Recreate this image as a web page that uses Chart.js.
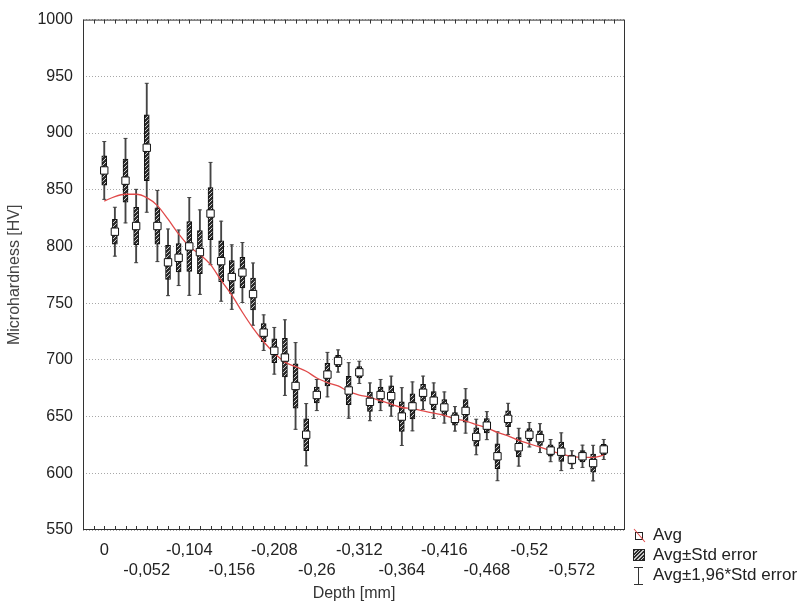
<!DOCTYPE html>
<html>
<head>
<meta charset="utf-8">
<script src="https://cdn.jsdelivr.net/npm/chart.js@4.4.1/dist/chart.umd.min.js"></script>
<style>
  body { margin: 0; background: #fff; font-family: "Liberation Sans", Arial, sans-serif; }
  #wrap { position: relative; width: 802px; height: 609px; }
  #legend { position: absolute; left: 631px; top: 525px; font-size: 17px; color: #222; }
  #legend .row { position: relative; height: 20px; line-height: 20px; padding-left: 22px; white-space: nowrap; }
  #legend .ico { position: absolute; left: 2px; top: 4px; width: 12px; height: 12px; box-sizing: border-box; }
  .ico.avg { border: 1px solid #222; background: #fff; width: 8px !important; height: 8px !important; left: 4px !important; top: 7px !important; }
  .ico.avg::after { content: ""; position: absolute; left: -5px; top: 2px; width: 17px; height: 1px; background: #e04848; transform: rotate(50deg); }
  .ico.se { border: 1px solid #222; background: repeating-linear-gradient(-45deg, #2c2c2c 0px, #2c2c2c 1.6px, #c8c8c8 1.6px, #c8c8c8 2.6px); }
  .ico.ci::before { content: ""; position: absolute; left: 5px; top: -2px; width: 1px; height: 18px; background: #333; }
  .ico.ci::after { content: ""; position: absolute; left: 1px; top: -2px; width: 9px; height: 18px; border-top: 1px solid #333; border-bottom: 1px solid #333; box-sizing: border-box; }
</style>
</head>
<body>
<div id="wrap">
  <canvas id="chart" width="802" height="609"></canvas>
  <div id="legend">
    <div class="row"><span class="ico avg"></span>Avg</div>
    <div class="row"><span class="ico se"></span>Avg±Std error</div>
    <div class="row"><span class="ico ci"></span>Avg±1,96*Std error</div>
  </div>
</div>
<script>
// depth of each measurement [mm]
const depths = [0, -0.013, -0.026, -0.039, -0.052, -0.065, -0.078, -0.091, -0.104, -0.117,
  -0.13, -0.143, -0.156, -0.169, -0.182, -0.195, -0.208, -0.221, -0.234, -0.247,
  -0.26, -0.273, -0.286, -0.299, -0.312, -0.325, -0.338, -0.351, -0.364, -0.377,
  -0.39, -0.403, -0.416, -0.429, -0.442, -0.455, -0.468, -0.481, -0.494, -0.507,
  -0.52, -0.533, -0.546, -0.559, -0.572, -0.585, -0.598, -0.611];

// mean microhardness [HV]
const avg = [867, 813, 858, 818, 887, 818, 786, 790, 800, 795,
  829, 787, 773, 777, 758, 724, 708, 702, 677, 634,
  669, 687, 699, 673, 689, 663, 669, 668, 650, 659,
  671, 664, 658, 648, 655, 632, 642, 615, 648, 623,
  634, 631, 620, 619, 612, 615, 609, 621];

// standard error of the mean [HV]
const stdErr = [13, 11, 19, 16.5, 29, 16, 15, 12.5, 22, 19,
  23, 18, 14.5, 13.5, 14, 8, 10.5, 17, 19.5, 14,
  7, 10, 5, 12.5, 5, 8.5, 7, 9, 13, 11,
  7.5, 8, 7, 5.5, 10, 8, 6.3, 11, 7, 8.5,
  5.5, 6.5, 5, 8.5, 4, 5, 8, 4.5];

// smoothed fit (red curve)
const fit = [840, 844, 846, 846, 843, 836, 824, 811, 800, 793,
  784, 770, 757, 742, 728, 716, 706, 698, 694, 690,
  684, 680, 677, 672, 669, 667, 664, 661, 658, 657,
  655, 653, 651, 648, 646, 643, 640, 636, 633, 629,
  626, 623, 620, 617, 615, 614, 614, 616];

const tickLabels = ['0', '-0,052', '-0,104', '-0,156', '-0,208', '-0,26',
  '-0,312', '-0,364', '-0,416', '-0,468', '-0,52', '-0,572'];

const STEP = 0.013;
const FONT = '"Liberation Sans", Arial, sans-serif';

// hatch pattern for the std error boxes
function hatch() {
  const c = document.createElement('canvas');
  c.width = 4; c.height = 4;
  const g = c.getContext('2d');
  g.fillStyle = '#2c2c2c';
  g.fillRect(0, 0, 4, 4);
  g.strokeStyle = '#cfcfcf';
  g.lineWidth = 1;
  g.beginPath();
  g.moveTo(0, 4); g.lineTo(4, 0);
  g.stroke();
  return g.createPattern(c, 'repeat');
}

const seBoxes = depths.map((d, i) => ({ x: d, y: [avg[i] - stdErr[i], avg[i] + stdErr[i]] }));
const ciBars = depths.map((d, i) => ({ x: d, y: [avg[i] - 1.96 * stdErr[i], avg[i] + 1.96 * stdErr[i]] }));
const caps = [];
depths.forEach((d, i) => {
  caps.push({ x: d, y: avg[i] + 1.96 * stdErr[i] });
  caps.push({ x: d, y: avg[i] - 1.96 * stdErr[i] });
});

// frame + inward minor ticks
const framePlugin = {
  id: 'frame',
  afterDatasetsDraw(chart) {
    const { ctx, chartArea: a } = chart;
    const xs = chart.scales.x;
    ctx.save();
    ctx.strokeStyle = '#333';
    ctx.lineWidth = 1;
    ctx.strokeRect(a.left + 0.5, a.top + 0.5, a.right - a.left - 1, a.bottom - a.top - 1);
    ctx.beginPath();
    xs.ticks.forEach(t => {
      const px = Math.round(xs.getPixelForValue(t.value)) + 0.5;
      if (px <= a.left + 1 || px >= a.right - 1) return;
      ctx.moveTo(px, a.bottom); ctx.lineTo(px, a.bottom - 4);
      ctx.moveTo(px, a.top); ctx.lineTo(px, a.top + 4);
    });
    ctx.stroke();
    ctx.restore();
  }
};

new Chart(document.getElementById('chart'), {
  type: 'bar',
  data: {
    datasets: [
      {
        type: 'line', data: depths.map((d, i) => ({ x: d, y: avg[i] })),
        showLine: false, pointStyle: 'rect', pointRadius: 5.2,
        pointBackgroundColor: '#fff', pointBorderColor: '#111', pointBorderWidth: 1, order: 0
      },
      {
        type: 'line', data: depths.map((d, i) => ({ x: d, y: fit[i] })),
        borderColor: '#e04a4a', borderWidth: 1.3, pointRadius: 0, tension: 0.4,
        cubicInterpolationMode: 'monotone', order: 1
      },
      {
        data: seBoxes, backgroundColor: hatch(), borderColor: '#111', borderWidth: 1,
        borderSkipped: false, barThickness: 5, grouped: false, order: 2
      },
      {
        data: ciBars, backgroundColor: '#444', borderWidth: 0,
        barThickness: 1.2, grouped: false, order: 3
      },
      {
        type: 'line', data: caps, showLine: false, pointStyle: 'line', pointRadius: 2,
        pointBorderColor: '#444', pointBorderWidth: 1, order: 3
      }
    ]
  },
  options: {
    responsive: false,
    animation: false,
    layout: { padding: { left: 0, right: 177, top: 15, bottom: 0 } },
    plugins: { legend: { display: false }, tooltip: { enabled: false } },
    scales: {
      x: {
        type: 'linear', reverse: true, offset: false, min: -0.637, max: 0.026,
        afterBuildTicks(scale) {
          const t = [];
          for (let k = -49; k <= 2; k++) t.push({ value: k * STEP });
          scale.ticks = t;
        },
        afterFit(scale) { scale.height = 79; },
        grid: { display: false, offset: false },
        border: { display: false },
        ticks: {
          autoSkip: false, maxRotation: 0, padding: 2, color: '#222',
          font: { family: FONT, size: 16.5, lineHeight: 1.22 },
          callback(value) {
            const k = Math.round(-value / STEP);
            if (k < 0 || k % 4) return '';
            const i = k / 4;
            const lab = tickLabels[i];
            if (lab === undefined) return '';
            return i % 2 === 0 ? [lab, ''] : ['', lab];
          }
        },
        title: {
          display: true, text: 'Depth [mm]', color: '#333', padding: { top: 6, bottom: 6 },
          font: { family: FONT, size: 16 }
        }
      },
      y: {
        min: 550, max: 1000,
        afterFit(scale) { scale.width = 83; },
        ticks: {
          stepSize: 50, padding: 10, color: '#222',
          font: { family: FONT, size: 16 },
          callback: v => String(v)
        },
        grid: { color: '#a8a8a8', lineWidth: 1, drawTicks: false },
        border: { display: false, dash: [1, 2] },
        title: {
          display: true, text: 'Microhardness [HV]', color: '#444', padding: { top: 5, bottom: 5 },
          font: { family: FONT, size: 16 }
        }
      }
    }
  },
  plugins: [framePlugin]
});
</script>
</body>
</html>
